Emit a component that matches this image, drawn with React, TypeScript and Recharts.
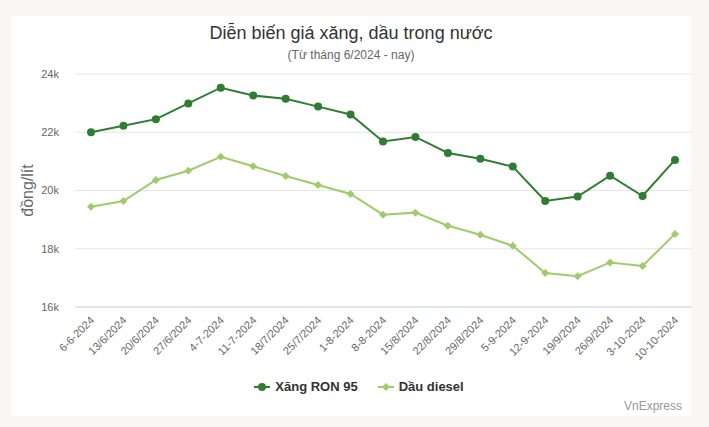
import { LineChart, Line, XAxis, YAxis, CartesianGrid, Legend } from "recharts";

const dates = [
    "6-6-2024", "13/6/2024", "20/6/2024", "27/6/2024", "4-7-2024", "11-7-2024", "18/7/2024",
    "25/7/2024", "1-8-2024", "8-8-2024", "15/8/2024", "22/8/2024", "29/8/2024", "5-9-2024",
    "12-9-2024", "19/9/2024", "26/9/2024", "3-10-2024", "10-10-2024",
];
const ron95 = [
    22000, 22220, 22450, 22990, 23530, 23260, 23150, 22880, 22610, 21680,
    21840, 21290, 21090, 20820, 19640, 19790, 20510, 19810, 21050,
];
const diesel = [
    19440, 19640, 20360, 20680, 21160, 20830, 20500, 20190, 19880, 19170,
    19240, 18790, 18480, 18100, 17170, 17060, 17530, 17410, 18510,
];
const yTicks = [16000, 18000, 20000, 22000, 24000];

const RON_COLOR = "#2f7d32";
const DIESEL_COLOR = "#9dcc6a";
const FONT = '"Liberation Sans", Arial, sans-serif';

const data = dates.map((d, i) => ({ date: d, ron: ron95[i], diesel: diesel[i] }));

const Diamond = (props: any) => {
    const { cx, cy } = props;
    if (cx == null || cy == null) return null;
    const s = 4;
    return (
        <path
            d={`M${cx},${cy - s} L${cx + s},${cy} L${cx},${cy + s} L${cx - s},${cy} Z`}
            fill={DIESEL_COLOR}
        />
    );
};

const XTick = (props: any) => {
    const { x, y, payload } = props;
    return (
        <text
            x={x + 4}
            y={y + 6}
            transform={`rotate(-45 ${x + 4} ${y + 6})`}
            textAnchor="end"
            fontSize={11}
            fill="#666"
            fontFamily={FONT}
        >
            {payload.value}
        </text>
    );
};

const LegendBox = () => (
    <div
        style={{
            display: "flex",
            justifyContent: "center",
            gap: 20,
            fontFamily: FONT,
            fontSize: 13,
            fontWeight: "bold",
            color: "#333",
            marginLeft: 16,
        }}
    >
        <span style={{ display: "flex", alignItems: "center" }}>
            <svg width={16} height={12} style={{ marginRight: 5 }}>
                <line x1={0} y1={6} x2={16} y2={6} stroke={RON_COLOR} strokeWidth={2} />
                <circle cx={8} cy={6} r={4} fill={RON_COLOR} />
            </svg>
            Xăng RON 95
        </span>
        <span style={{ display: "flex", alignItems: "center" }}>
            <svg width={16} height={12} style={{ marginRight: 5 }}>
                <line x1={0} y1={6} x2={16} y2={6} stroke={DIESEL_COLOR} strokeWidth={2} />
                <path d="M8,2 L12,6 L8,10 L4,6 Z" fill={DIESEL_COLOR} />
            </svg>
            Dầu diesel
        </span>
    </div>
);

export default function App() {
    return (
        <div
            style={{
                position: "absolute",
                left: 0,
                top: 0,
                width: 709,
                height: 427,
                background: "#f8f7f3",
                fontFamily: FONT,
            }}
        >
            <div
                style={{
                    position: "absolute",
                    left: 11,
                    top: 16,
                    width: 680,
                    height: 400,
                    background: "#fff",
                }}
            >
                <div
                    style={{
                        position: "absolute",
                        top: 7,
                        width: "100%",
                        textAlign: "center",
                        fontSize: 18,
                        color: "#333",
                    }}
                >
                    Diễn biến giá xăng, dầu trong nước
                </div>
                <div
                    style={{
                        position: "absolute",
                        top: 32,
                        width: "100%",
                        textAlign: "center",
                        fontSize: 12,
                        color: "#666",
                    }}
                >
                    (Từ tháng 6/2024 - nay)
                </div>
                <LineChart
                    width={680}
                    height={400}
                    data={data}
                    margin={{ top: 58, right: 0, bottom: 34, left: 0 }}
                >
                    <CartesianGrid vertical={false} stroke="#e6e6e6" />
                    <XAxis
                        dataKey="date"
                        interval={0}
                        padding={{ left: 16, right: 16 }}
                        tick={<XTick />}
                        tickLine={false}
                        axisLine={{ stroke: "#ccd6eb" }}
                        height={60}
                    />
                    <YAxis
                        width={64}
                        domain={[16000, 24000]}
                        ticks={yTicks}
                        tickFormatter={(v: number) => `${v / 1000}k`}
                        tick={{ fontSize: 11, fill: "#666", fontFamily: FONT }}
                        tickLine={false}
                        axisLine={false}
                        tickSize={0}
                        tickMargin={16}
                        label={{
                            value: "đồng/lít",
                            angle: -90,
                            position: "insideLeft",
                            offset: 16,
                            style: { fontSize: 16, fill: "#666", fontFamily: FONT, textAnchor: "middle" },
                        }}
                    />
                    <Legend
                        content={<LegendBox />}
                        wrapperStyle={{ position: "absolute", top: 363, left: 0, width: 680 }}
                    />
                    <Line
                        dataKey="ron"
                        stroke={RON_COLOR}
                        strokeWidth={2}
                        dot={{ r: 4, fill: RON_COLOR, stroke: RON_COLOR, strokeWidth: 0 }}
                        activeDot={false}
                        isAnimationActive={false}
                    />
                    <Line
                        dataKey="diesel"
                        stroke={DIESEL_COLOR}
                        strokeWidth={2}
                        dot={<Diamond />}
                        activeDot={false}
                        isAnimationActive={false}
                    />
                </LineChart>
                <div
                    style={{
                        position: "absolute",
                        right: 9,
                        top: 383,
                        fontSize: 12,
                        color: "#999",
                    }}
                >
                    VnExpress
                </div>
            </div>
        </div>
    );
}
